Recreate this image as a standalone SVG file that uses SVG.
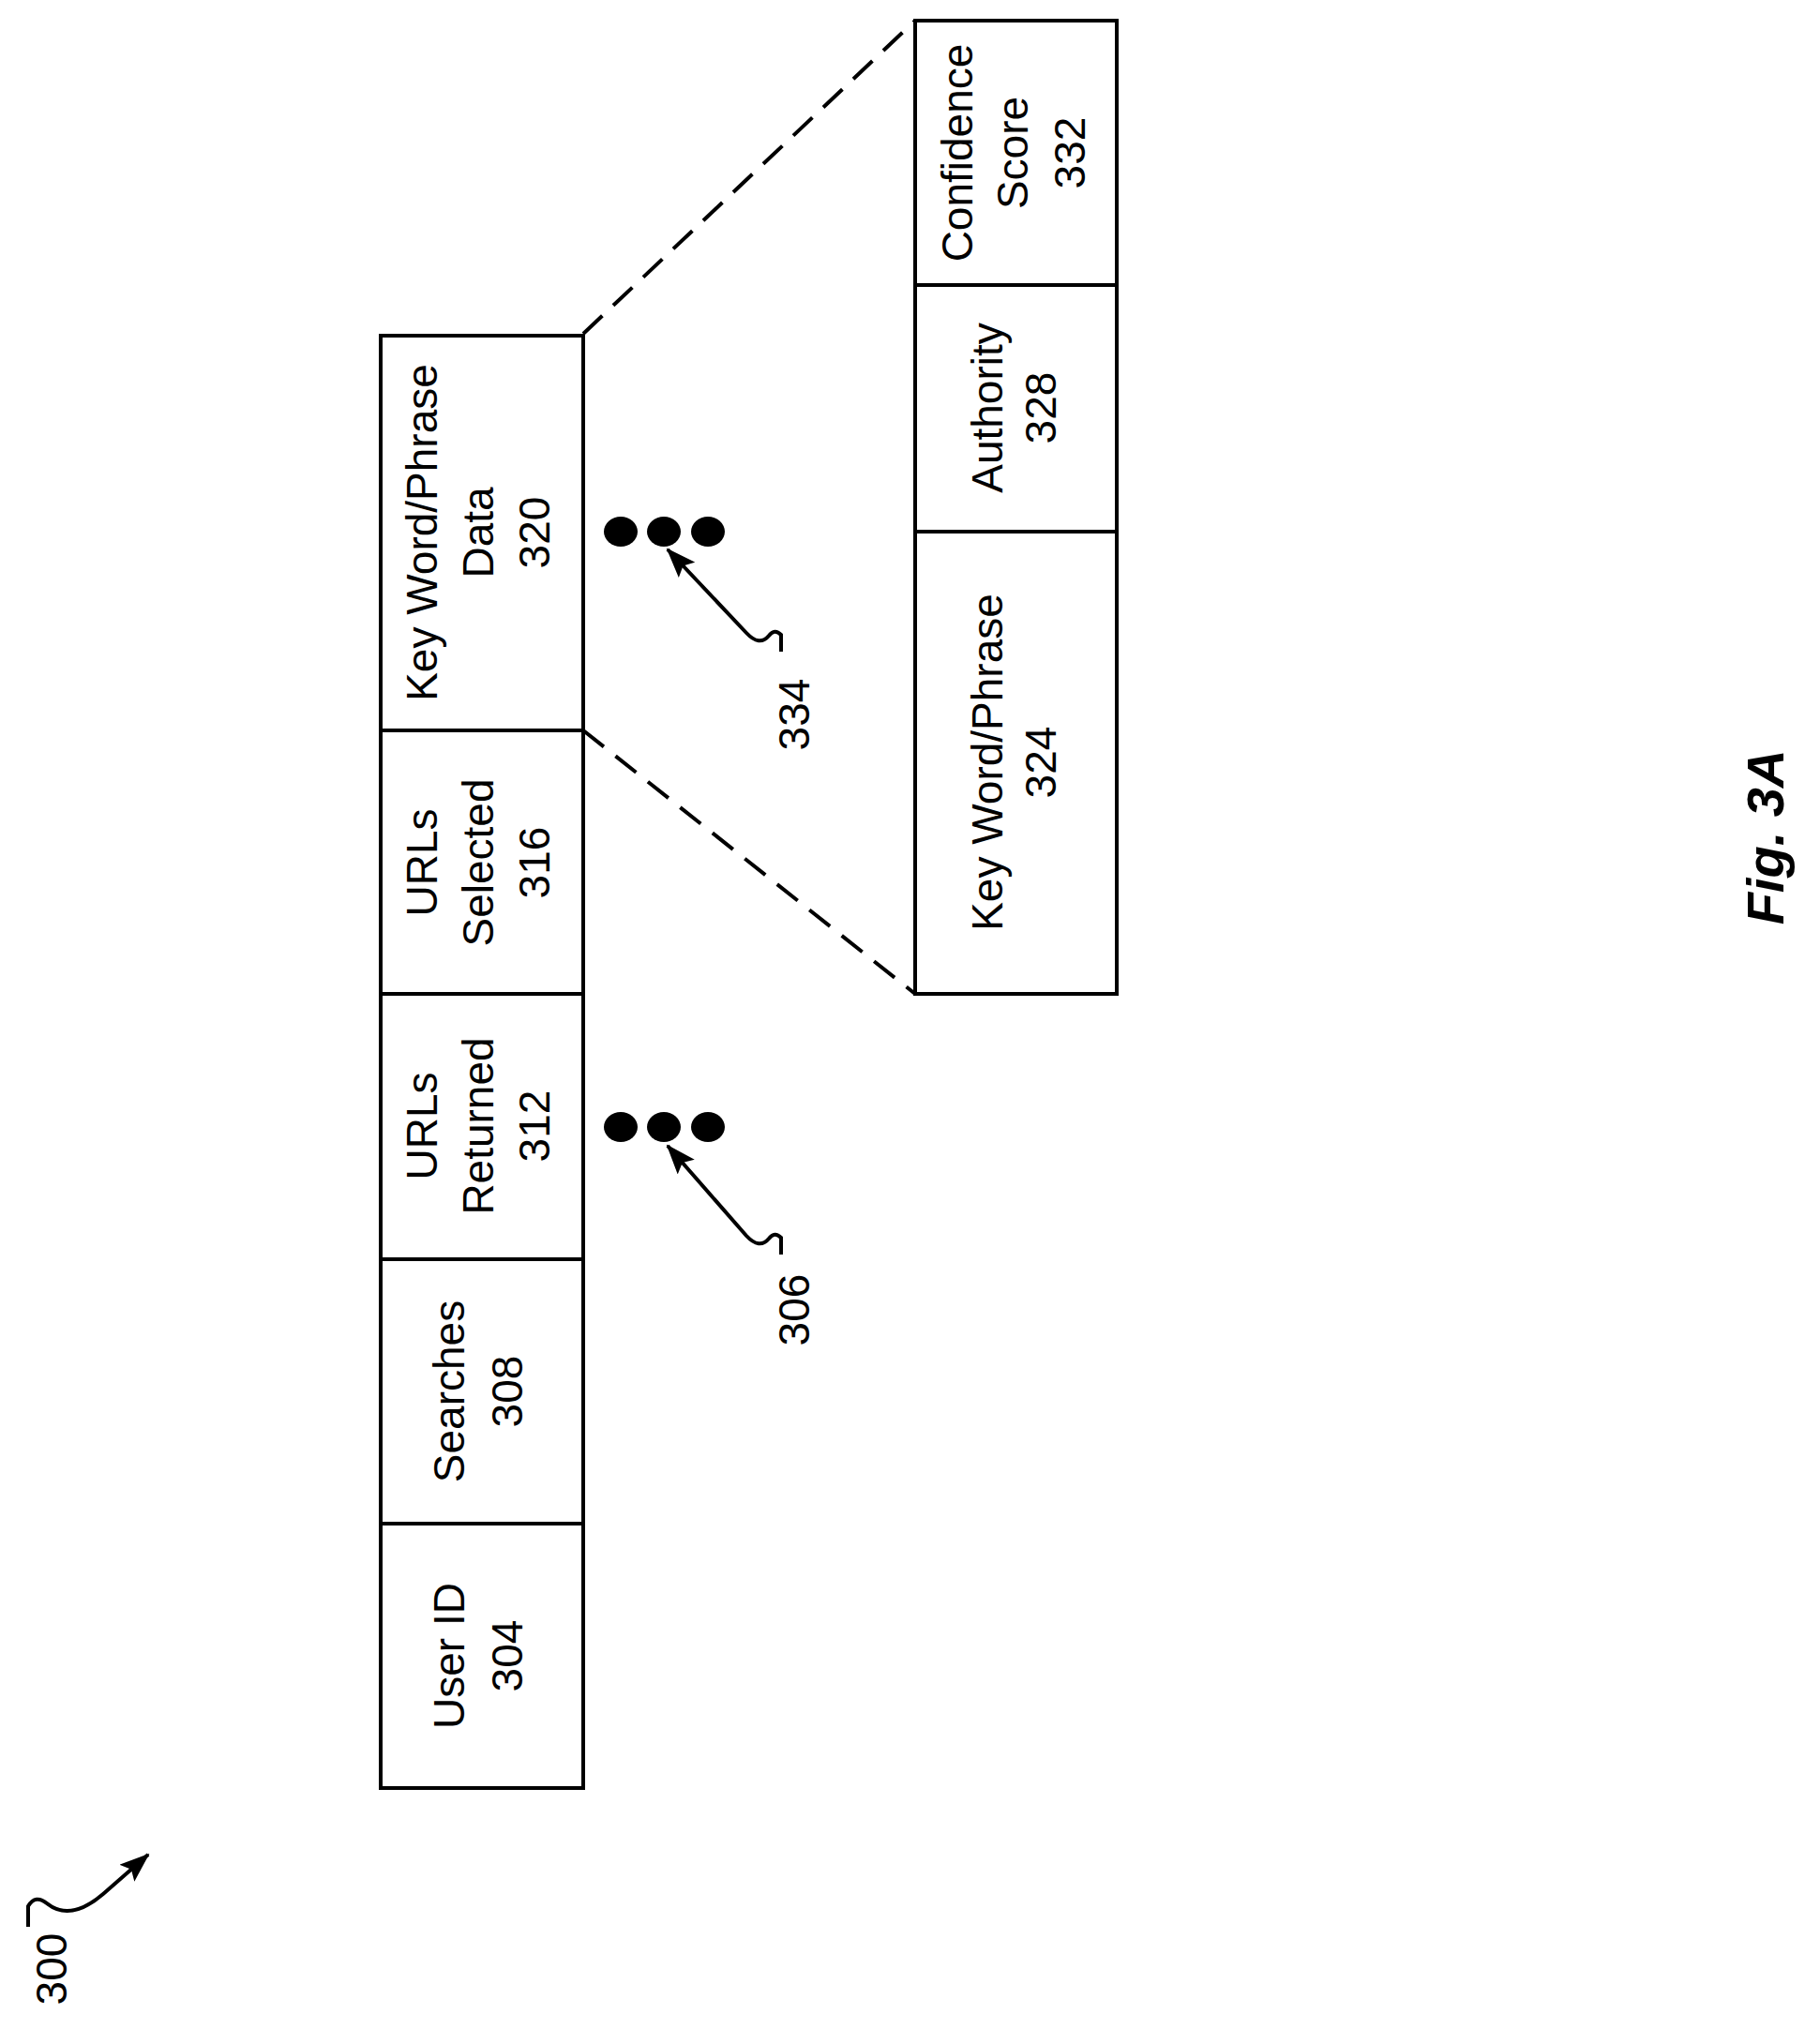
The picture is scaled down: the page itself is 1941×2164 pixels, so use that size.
<svg xmlns="http://www.w3.org/2000/svg" width="1941" height="2164" viewBox="0 0 1941 2164">
<style>
.b{fill:#fff;stroke:#000;stroke-width:4}
.l{fill:none;stroke:#000;stroke-width:4}
.d{fill:none;stroke:#000;stroke-width:4;stroke-dasharray:28 16}
text{font-family:"Liberation Sans",Arial,sans-serif;font-size:46px;text-anchor:middle;dominant-baseline:central;fill:#000}
.f{font-weight:bold;font-style:italic;font-size:56px}
</style>
<defs>
<marker id="ah" viewBox="0 0 32 24" refX="30" refY="12" markerWidth="32" markerHeight="24" markerUnits="userSpaceOnUse" orient="auto">
<path d="M0,0 L32,12 L0,24 L6,12 z" fill="#000"/>
</marker>
</defs>
<rect width="1941" height="2164" fill="#fff"/>
<g id="connectors">
<line class="d" x1="622" y1="356" x2="976" y2="22"/>
<line class="d" x1="622" y1="779" x2="976" y2="1060"/>
<path class="l" d="M833,695 L833,677 Q826,670 820,678 Q810,690 796,675 L712,586" marker-end="url(#ah)"/>
<path class="l" d="M833,1338 L833,1320 Q826,1313 820,1321 Q810,1333 796,1318 L712,1222" marker-end="url(#ah)"/>
<path class="l" d="M30,2055 L30,2033 Q38,2020 50,2030 Q75,2050 110,2020 L158,1978" marker-end="url(#ah)"/>
</g>
<g id="n304"><rect class="b" x="406" y="1625" width="216" height="282"/><text transform="translate(479,1766) rotate(-90)">User ID</text><text transform="translate(541,1766) rotate(-90)">304</text></g>
<g id="n308"><rect class="b" x="406" y="1343" width="216" height="282"/><text transform="translate(479,1484) rotate(-90)">Searches</text><text transform="translate(541,1484) rotate(-90)">308</text></g>
<g id="n312"><rect class="b" x="406" y="1060" width="216" height="283"/><text transform="translate(450,1201) rotate(-90)">URLs</text><text transform="translate(510,1201) rotate(-90)">Returned</text><text transform="translate(570,1201) rotate(-90)">312</text></g>
<g id="n316"><rect class="b" x="406" y="779" width="216" height="281"/><text transform="translate(450,920) rotate(-90)">URLs</text><text transform="translate(510,920) rotate(-90)">Selected</text><text transform="translate(570,920) rotate(-90)">316</text></g>
<g id="n320"><rect class="b" x="406" y="358" width="216" height="421"/><text transform="translate(450,568) rotate(-90)">Key Word/Phrase</text><text transform="translate(510,568) rotate(-90)">Data</text><text transform="translate(570,568) rotate(-90)">320</text></g>
<g id="n324"><rect class="b" x="976" y="567" width="215" height="493"/><text transform="translate(1053,813) rotate(-90)">Key Word/Phrase</text><text transform="translate(1110,813) rotate(-90)">324</text></g>
<g id="n328"><rect class="b" x="976" y="304" width="215" height="263"/><text transform="translate(1053,435) rotate(-90)">Authority</text><text transform="translate(1110,435) rotate(-90)">328</text></g>
<g id="n332"><rect class="b" x="976" y="22" width="215" height="282"/><text transform="translate(1021,163) rotate(-90)">Confidence</text><text transform="translate(1080,163) rotate(-90)">Score</text><text transform="translate(1141,163) rotate(-90)">332</text></g>
<g id="dots334"><ellipse cx="662" cy="567" rx="18" ry="16"/><ellipse cx="708" cy="567" rx="18" ry="16"/><ellipse cx="755" cy="567" rx="18" ry="16"/></g>
<g id="dots306"><ellipse cx="662" cy="1202" rx="18" ry="16"/><ellipse cx="708" cy="1202" rx="18" ry="16"/><ellipse cx="755" cy="1202" rx="18" ry="16"/></g>
<g id="labels">
<text transform="translate(847,762) rotate(-90)">334</text>
<text transform="translate(847,1397) rotate(-90)">306</text>
<text transform="translate(55,2100) rotate(-90)">300</text>
<text class="f" transform="translate(1882,893) rotate(-90)">Fig. 3A</text>
</g>
</svg>
